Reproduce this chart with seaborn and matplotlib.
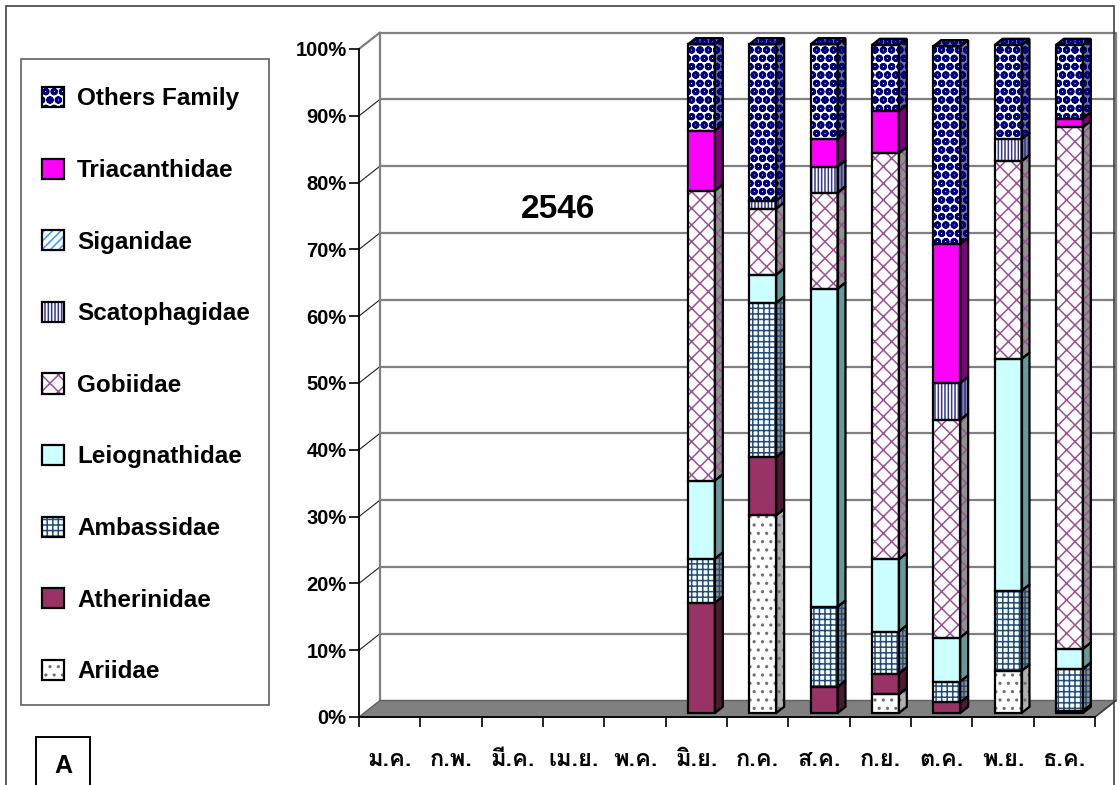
import matplotlib
matplotlib.use("Agg")
import matplotlib.pyplot as plt
import seaborn as sns
import pandas as pd
from matplotlib import font_manager, ft2font
from matplotlib.patches import Polygon, Rectangle, Patch

# ---------------------------------------------------------------- data
months = ["ม.ค.", "ก.พ.", "มี.ค.", "เม.ย.", "พ.ค.", "มิ.ย.",
          "ก.ค.", "ส.ค.", "ก.ย.", "ต.ค.", "พ.ย.", "ธ.ค."]

# percentage composition of the catch per month (bottom -> top of stack)
ariidae       = [0, 0, 0, 0, 0,  0.0, 29.6,  0.0,  2.8,  0.0,  6.3,  0.0]
atherinidae   = [0, 0, 0, 0, 0, 16.5,  8.7,  3.9,  3.1,  1.6,  0.0,  0.3]
ambassidae    = [0, 0, 0, 0, 0,  6.6, 23.1, 12.0,  6.3,  3.1, 12.0,  6.3]
leiognathidae = [0, 0, 0, 0, 0, 11.7,  4.2, 47.6, 10.8,  6.6, 34.7,  3.0]
gobiidae      = [0, 0, 0, 0, 0, 43.4,  9.9, 14.4, 60.8, 32.6, 29.6, 78.1]
scatophagidae = [0, 0, 0, 0, 0,  0.0,  1.2,  3.9,  0.0,  5.5,  3.3,  0.0]
siganidae     = [0, 0, 0, 0, 0,  0.0,  0.0,  0.0,  0.0,  0.0,  0.0,  0.0]
triacanthidae = [0, 0, 0, 0, 0,  9.0,  0.0,  4.2,  6.3, 20.8,  0.0,  1.3]
others_family = [0, 0, 0, 0, 0, 12.9, 23.4, 14.1,  9.9, 29.6, 14.1, 11.0]

family_names = ["Ariidae", "Atherinidae", "Ambassidae", "Leiognathidae",
                "Gobiidae", "Scatophagidae", "Siganidae", "Triacanthidae",
                "Others Family"]
family_values = [ariidae, atherinidae, ambassidae, leiognathidae, gobiidae,
                 scatophagidae, siganidae, triacanthidae, others_family]

y_ticks = list(range(0, 101, 10))
y_tick_labels = [f"{v}%" for v in y_ticks]
year_label = "2546"
panel_label = "A"

df = pd.DataFrame(dict(zip(family_names, family_values)), index=months)

# ---------------------------------------------------------------- styles
# front face, hatch, hatch colour, side face
styles = {
    "Ariidae":       ("#FFFFFF", "..",    "#707070", "#B0B0B0"),
    "Atherinidae":   ("#993366", None,    None,      "#4D1A33"),
    "Ambassidae":    ("#FFFFFF", "+++",   "#1F4E79", "#909090"),
    "Leiognathidae": ("#CCFFFF", None,    None,      "#669999"),
    "Gobiidae":      ("#FFFFFF", "xx",    "#9B4F96", "#909090"),
    "Scatophagidae": ("#FFFFFF", "|||||", "#333399", "#8080A0"),
    "Siganidae":     ("#FFFFFF", "////",  "#3399FF", "#909090"),
    "Triacanthidae": ("#FF00FF", None,    None,      "#800080"),
    "Others Family": ("#FFFFFF", "OOoo",  "#000080", "#707090"),
}

sns.set_style("white")


def thai_family():
    """Return an installed family that has Thai glyphs (bold preferred)."""
    found = []
    for f in font_manager.fontManager.ttflist:
        try:
            cmap = ft2font.FT2Font(f.fname).get_charmap()
        except Exception:
            continue
        if 0x0E04 in cmap and 0x0E21 in cmap and 0x0E22 in cmap:
            found.append(f)
    if not found:
        return "DejaVu Sans"
    found.sort(key=lambda f: 0 if str(f.weight) in ("bold", "700") else 1)
    return found[0].name


THAI = thai_family()
plt.rcParams["font.family"] = ["Liberation Sans", "DejaVu Sans"]
plt.rcParams["hatch.linewidth"] = 1.1
for key in ("text.color", "axes.labelcolor", "xtick.color", "ytick.color"):
    plt.rcParams[key] = "black"

W, H = 1120, 785
fig = plt.figure(figsize=(W / 100, H / 100), dpi=100)
ax = fig.add_axes([359 / W, (H - 717) / H, (1095 - 359) / W, (717 - 49) / H])
n = len(months)
ax.set_xlim(-0.5, n - 0.5)
ax.set_ylim(0, 100)

# depth of the 3-D box (data units) and of the bars within it
DX, DY = 0.342, 2.47
F0, F1 = 0.24, 0.62
BW = 0.44

# ---------------------------------------------------------------- walls
x0, x1 = -0.5, n - 0.5
floor = Polygon([(x0, 0), (x1, 0), (x1 + DX, DY), (x0 + DX, DY)],
                closed=True, facecolor="#808080", edgecolor="#606060",
                lw=1, zorder=1, clip_on=False)
ax.add_patch(floor)
for v in y_ticks[1:]:
    ax.plot([x0 + DX, x1 + DX], [v + DY, v + DY], color="#808080", lw=1.6,
            zorder=0.5, clip_on=False)
    ax.plot([x0, x0 + DX], [v, v + DY], color="#202020", lw=0.8,
            zorder=0.5, clip_on=False)
ax.plot([x0 + DX, x0 + DX], [DY, 100 + DY], color="#808080", lw=1.6,
        zorder=0.5, clip_on=False)
ax.plot([x1 + DX, x1 + DX], [DY, 100 + DY], color="#808080", lw=1.6,
        zorder=0.5, clip_on=False)
ax.plot([x0, x0 + DX], [100, 100 + DY], color="#808080", lw=1.6,
        zorder=0.5, clip_on=False)
ax.plot([x1, x1 + DX], [0, DY], color="#404040", lw=1.2,
        zorder=1.2, clip_on=False)


# ---------------------------------------------------------------- bars
def face(poly_pts, fc, hatch, hc, z):
    ax.add_patch(Polygon(poly_pts, closed=True, facecolor=fc,
                         edgecolor=hc if hatch else fc, hatch=hatch,
                         lw=0, zorder=z, clip_on=False))
    ax.add_patch(Polygon(poly_pts, closed=True, fill=False,
                         edgecolor="black", lw=1.6, zorder=z + 0.1,
                         clip_on=False))


fx0, fy0 = F0 * DX, F0 * DY
bdx, bdy = (F1 - F0) * DX, (F1 - F0) * DY
for i in range(n):
    col = df.iloc[i]
    if col.sum() <= 0:
        continue
    segs = [(name, b, b + val) for name, val, b in
            zip(df.columns, col.values, col.cumsum().values - col.values)
            if val > 0]
    for k, (name, b, t) in enumerate(segs):
        fc, hatch, hc, side = styles[name]
        xl = i - BW / 2 + fx0
        xr = i + BW / 2 + fx0
        yb, yt = b + fy0, t + fy0
        z = 3 + k * 0.01
        face([(xl, yb), (xr, yb), (xr, yt), (xl, yt)], fc, hatch, hc, z)
        face([(xr, yb), (xr + bdx, yb + bdy), (xr + bdx, yt + bdy), (xr, yt)],
             side, hatch, hc, z)
        if k == len(segs) - 1:
            face([(xl, yt), (xr, yt), (xr + bdx, yt + bdy), (xl + bdx, yt + bdy)],
                 side, hatch, hc, z + 0.05)

# ---------------------------------------------------------------- axes
for s in ("top", "right"):
    ax.spines[s].set_visible(False)
for s in ("left", "bottom"):
    ax.spines[s].set_color("black")
    ax.spines[s].set_linewidth(1.3)
    ax.spines[s].set_zorder(2)

ax.set_yticks(y_ticks)
ax.set_yticklabels(y_tick_labels, fontsize=14.5, fontweight="bold")
ax.tick_params(axis="y", length=7, width=1.2, color="black", pad=2,
               direction="out", left=True)

ax.set_xticks([i - 0.5 for i in range(n + 1)])
ax.set_xticklabels([])
ax.set_xticks(range(n), minor=True)
ax.set_xticklabels(months, minor=True, fontsize=17, fontweight="bold",
                   family=[THAI, "DejaVu Sans"])
ax.tick_params(axis="x", which="major", length=7, width=1.2, color="black",
               direction="out", bottom=True)
ax.tick_params(axis="x", which="minor", length=0, pad=22)
ax.grid(False)

ax.text(2.74, 76, year_label, fontsize=24, fontweight="bold",
        ha="center", va="center")

# ---------------------------------------------------------------- legend
handles = []
for name in reversed(family_names):
    fc, hatch, hc, side = styles[name]
    fill = Patch(facecolor=fc, edgecolor=hc if hatch else fc, hatch=hatch, lw=0)
    edge = Patch(fill=False, edgecolor="black", lw=1.6)
    handles.append((fill, edge))
fig.legend(handles, list(reversed(family_names)), loc="upper left",
           bbox_to_anchor=(42 / W, 1 - 87 / H), borderaxespad=0,
           frameon=False, borderpad=0,
           prop=dict(family="Liberation Sans", weight="bold", size=17.5),
           handlelength=0.9, handleheight=0.9, handletextpad=0.55,
           labelspacing=1.98)
# legend frame
fig.patches.append(Rectangle((21 / W, 1 - 705 / H), (269 - 21) / W,
                             (705 - 59) / H, transform=fig.transFigure,
                             fill=False, edgecolor="#606060", lw=1.2))

# ---------------------------------------------------------------- panel tag & frame
fig.patches.append(Rectangle((36 / W, -0.01), 54 / W, (H - 737) / H + 0.01,
                             transform=fig.transFigure, fill=False,
                             edgecolor="black", lw=1.4))
fig.text(63 / W, 1 - 766 / H, panel_label, fontsize=18, fontweight="bold",
         ha="center", va="center")
fig.patches.append(Rectangle((6 / W, -0.01), (1114 - 6) / W, 1 - 6 / H + 0.01,
                             transform=fig.transFigure, fill=False,
                             edgecolor="#404040", lw=1.2))

fig.savefig("out.png", dpi=100)
